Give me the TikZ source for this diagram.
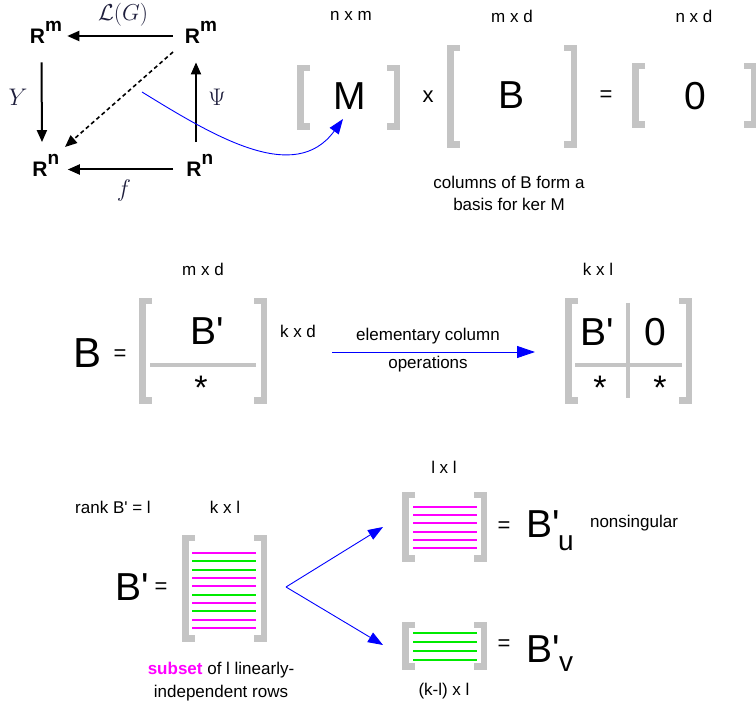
\RequirePackage{fix-cm}
\documentclass[tikz,border=0pt]{standalone}
\usepackage{fontspec}
\setmainfont{Liberation Sans}[Ligatures=TeXOff]
\usetikzlibrary{arrows.meta}
\definecolor{brkgray}{RGB}{196,196,196}
\definecolor{mathlab}{RGB}{30,30,60}
\definecolor{magrow}{RGB}{255,0,255}
\definecolor{grnrow}{RGB}{0,235,0}
\definecolor{bluearr}{RGB}{0,0,255}
\newcommand{\fsz}[1]{\fontsize{#1}{#1}\selectfont}
\newcommand{\brkpair}[4]{%
  \draw[brkline] ({#1+13},{#3+3.25}) -- ({#1+3.25},{#3+3.25}) -- ({#1+3.25},{#4-3.25}) -- ({#1+13},{#4-3.25});
  \draw[brkline] ({#2-13},{#3+3.25}) -- ({#2-3.25},{#3+3.25}) -- ({#2-3.25},{#4-3.25}) -- ({#2-13},{#4-3.25});}
\tikzset{
  lbl/.style={inner sep=0pt, font=\fsz{17}},
  bigl/.style={inner sep=0pt, font=\fsz{39}},
  opl/.style={inner sep=0pt, font=\fsz{22}},
  starl/.style={inner sep=0pt, font=\fsz{34}},
  subl/.style={inner sep=0pt, font=\fsz{28}},
  rsp/.style={inner sep=0pt, font=\bfseries\fsz{21}},
  mlab/.style={inner sep=0pt, text=mathlab, font=\fsz{24}},
  brkline/.style={draw=brkgray, line width=6.5pt, line join=miter},
  divline/.style={draw=brkgray, line width=4pt},
  cdarr/.style={draw=black, line width=2pt, -{Triangle[length=12pt,width=10pt]}},
  cddash/.style={draw=black, line width=1.6pt, dash pattern=on 4pt off 3pt, -{Triangle[length=12pt,width=10pt]}},
  bluelink/.style={draw=bluearr, line width=0.9pt, -{Triangle[length=15pt,width=11pt]}},
  bluebig/.style={draw=bluearr, line width=0.9pt, -{Triangle[length=18pt,width=12pt]}},
  magrowline/.style={draw=magrow, line width=2pt},
  grnrowline/.style={draw=grnrow, line width=2pt},
}
\begin{document}
\begin{tikzpicture}[x=1pt,y=-1pt]
\useasboundingbox (0,0) rectangle (756,708);
\fill[white] (0,0) rectangle (756,708);

% ---- commutative diagram ----
\node[rsp] (tl) at (37.5,36) {R\rlap{\smash{\raisebox{12pt}{\fsz{19}m}}}};
\node[rsp] (tr) at (192.5,36) {R\rlap{\smash{\raisebox{12pt}{\fsz{19}m}}}};
\node[rsp] (bl) at (40,169.5) {R\rlap{\smash{\raisebox{12pt}{\fsz{19}n}}}};
\node[rsp] (br) at (194,169.5) {R\rlap{\smash{\raisebox{12pt}{\fsz{19}n}}}};
\draw[cdarr] ([shift={(-12,0)}]tr.west) -- ([shift={(22,0)}]tl.east);
\draw[cdarr] ([shift={(-13,0)}]br.west) -- ([shift={(20,0)}]bl.east);
\draw[cdarr] ([shift={(4,19)}]tl.south) -- ([shift={(2,-20)}]bl.north);
\draw[cdarr] ([shift={(2,-20)}]br.north) -- ([shift={(3.5,19)}]tr.south);
\draw[cddash] ([shift={(-19.5,16)}]tr.center) -- ([shift={(25,-22.5)}]bl.center);
\node[mlab, font=\fsz{23}] (lg) at (123,15) {$\mathcal{L}(G)$};
\node[mlab] (ly) at (18,97) {$Y$};
\node[mlab] (lpsi) at (217,97) {$\Psi$};
\node[mlab] (lf) at (124,191) {$f$};

% ---- top equation ----
\node[lbl] (dnm) at (351,16) {n x m};
\node[lbl] (dmd) at (512,16) {m x d};
\node[lbl] (dnd) at (694,16) {n x d};
\brkpair{297}{400}{65}{130}
\brkpair{447}{577}{45}{148}
\brkpair{632}{757}{63}{128}
\node[bigl] (Mtxt) at (350,96) {M};
\node[opl] (times) at (428,97) {x};
\node[bigl] (Btxt) at (512,95) {B};
\node[opl] (eqtop) at (606,96) {=};
\node[bigl] (ztxt) at (695,96) {0};
\node[lbl, align=center, font=\fontsize{17}{22}\selectfont] (cols) at (509,193) {columns of B form a\\basis for ker M};
\coordinate (cstart) at (142,92);
\draw[bluelink] (cstart) .. controls (215,137) and (295,185) .. ([shift={(-7,23)}]Mtxt.center);

% ---- middle row ----
\node[lbl] (dmd2) at (203,269) {m x d};
\node[bigl, font=\fsz{42}] (Bl) at (88,353) {B};
\node[opl] (eqmid) at (120,355) {=};
\brkpair{139}{267}{298}{404}
\draw[divline] (150,365) -- (256,365);
\node[bigl] (Bp1) at (207,331) {B'};
\node[starl] (st1) at (201,388) {*};
\node[lbl] (dkd) at (298,331) {k x d};
\coordinate (eoA) at (332,352);
\coordinate (eoB) at (535,352);
\draw[bluebig] (eoA) -- (eoB);
\node[lbl] (elem) at (428,336) {elementary column};
\node[lbl] (oper) at (428,364) {operations};
\node[lbl] (dkl) at (598,269) {k x l};
\brkpair{565}{692}{298}{404}
\draw[divline] (575,365) -- (682,365);
\draw[divline] (628,303) -- (628,398);
\node[bigl] (Bp2) at (597,332) {B'};
\node[bigl] (z2) at (655,332) {0};
\node[starl] (st2) at (600,388) {*};
\node[starl] (st3) at (660,388) {*};

% ---- bottom row ----
\node[lbl] (rank) at (113,507) {rank B' = l};
\node[lbl] (dkl2) at (225,507) {k x l};
\node[bigl] (Bp3) at (132,587) {B'};
\node[opl] (eqbot) at (161,588) {=};
\brkpair{182}{267}{535}{642}
\foreach \c [count=\i from 0] in {magrowline,grnrowline,grnrowline,magrowline,magrowline,grnrowline,magrowline,grnrowline,magrowline,magrowline}
  \draw[\c] (192,{553+\i*8.33}) -- (256,{553+\i*8.33});
\node[lbl, align=center, font=\fontsize{17}{23}\selectfont] (subset) at (221,682) {\textcolor{magrow}{\bfseries subset} of l linearly-\\independent rows};
\coordinate (vtx) at (286,587);
\coordinate (vu) at (383,527);
\coordinate (vl) at (383,645);
\draw[bluelink] (vtx) -- (vu);
\draw[bluelink] (vtx) -- (vl);

\node[lbl] (dll) at (444,467) {l x l};
\brkpair{402}{487}{492}{562}
\foreach \i in {0,...,5}
  \draw[magrowline] (413,{507+\i*8.2}) -- (477,{507+\i*8.2});
\node[opl] (equ) at (504,527) {=};
\node[bigl] (Bu) at (543,524) {B'};
\node[subl] (su) at (566,543) {u};
\node[lbl] (nons) at (634,523) {nonsingular};

\brkpair{402}{487}{622}{670}
\foreach \i in {0,...,3}
  \draw[grnrowline] (413,{633+\i*8.9}) -- (477,{633+\i*8.9});
\node[opl] (eqv) at (504,645) {=};
\node[bigl] (Bv) at (543,649) {B'};
\node[subl] (sv) at (566,664) {v};
\node[lbl] (dkll) at (444,691) {(k-l) x l};
\end{tikzpicture}
\end{document}
